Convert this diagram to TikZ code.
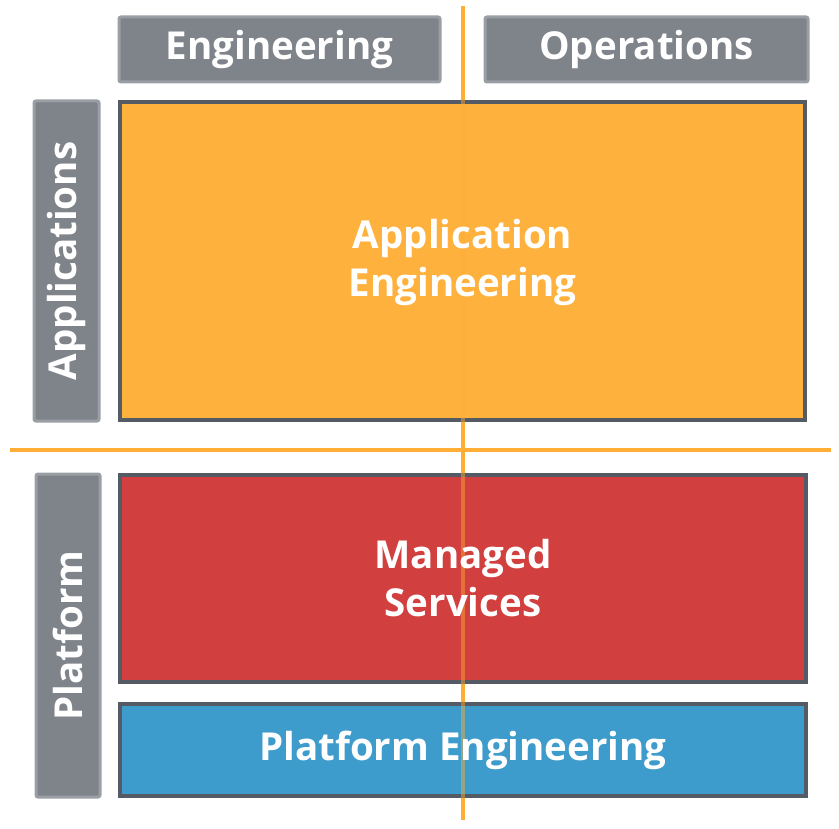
\documentclass[tikz,border=0pt]{standalone}
\usepackage{fontspec}
\setmainfont{Open Sans}
\definecolor{hdrfill}{HTML}{7F838A}
\definecolor{hdrdraw}{HTML}{9A9EA5}
\definecolor{boxdraw}{HTML}{545B64}
\definecolor{appfill}{HTML}{FFB13D}
\definecolor{msfill}{HTML}{D13F3F}
\definecolor{pefill}{HTML}{3E9CCC}
\definecolor{axis}{HTML}{FFAE35}
\tikzset{
  hdr/.style={fill=hdrfill, draw=hdrdraw, line width=3pt, rounded corners=2pt},
  mainbox/.style={draw=boxdraw, line width=4pt},
  lbl/.style={text=white, font=\bfseries\fontsize{38.5}{48}\selectfont, align=center},
  axisline/.style={draw=axis, line width=4pt},
  axisover/.style={draw=axis, line width=4pt, opacity=0.45},
}
\begin{document}
\begin{tikzpicture}[x=1pt,y=-1pt]
\useasboundingbox (0,0) rectangle (839,829);
% axes (below)
\coordinate (vtop) at (463,6);
\coordinate (vbot) at (463,820);
\coordinate (hl) at (10,450);
\coordinate (hr) at (831,450);
\draw[axisline] (vtop) -- (vbot);
\draw[axisline] (hl) -- (hr);
% headers
\draw[hdr] (119,17) rectangle (440,82);
\node[lbl] (eng) at (279.5,49.5) {Engineering};
\draw[hdr] (485,17) rectangle (808,82);
\node[lbl] (ops) at (646.5,49.5) {Operations};
\draw[hdr] (34,101) rectangle (99,421);
\node[lbl, rotate=90] (apps) at (66.5,261) {Applications};
\draw[hdr] (36,474) rectangle (100,797);
\node[lbl, rotate=90] (plat) at (68,635.5) {Platform};
% main boxes
\draw[mainbox, fill=appfill] (120,102) rectangle (805,420);
\draw[mainbox, fill=msfill] (120,475) rectangle (806,682);
\draw[mainbox, fill=pefill] (120,704) rectangle (806,796);
% axes (translucent over boxes)
\draw[axisover] (vtop) -- (vbot);
% labels
\node[lbl] (ae) at (462.5,262) {Application\\Engineering};
\node[lbl] (ms) at (463,578) {Managed\\Services};
\node[lbl] (pe) at (463,750) {Platform Engineering};
\end{tikzpicture}
\end{document}
